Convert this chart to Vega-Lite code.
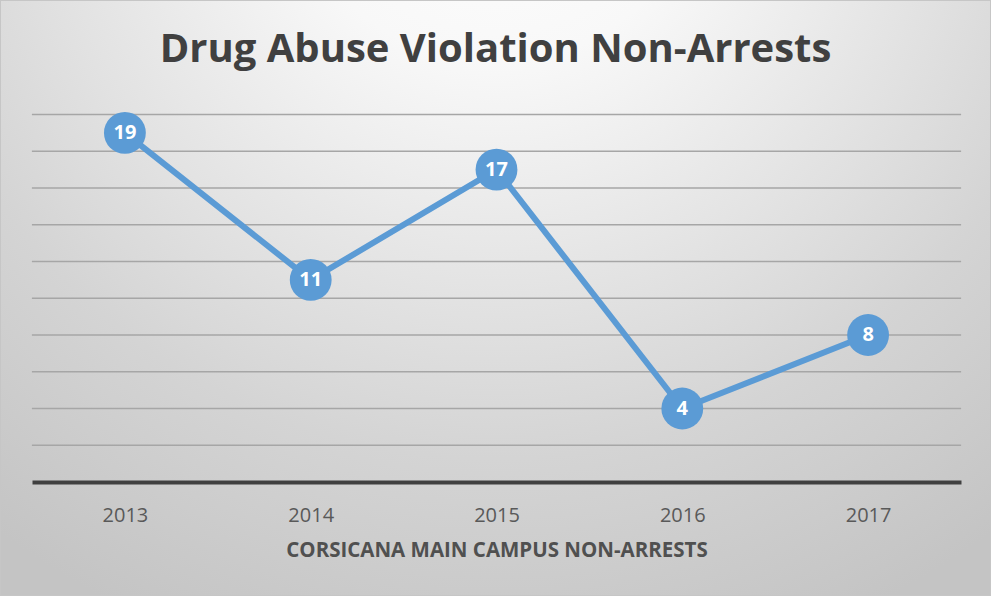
{
  "$schema": "https://vega.github.io/schema/vega-lite/v6.json",
  "width": 991,
  "height": 596,
  "autosize": {"type": "none"},
  "padding": 0,
  "background": "#d0d0d0",
  "config": {
    "font": "Open Sans",
    "view": {
      "fill": {
        "gradient": "radial",
        "x1": 0.5, "y1": 0.05, "r1": 0,
        "x2": 0.5, "y2": 0.05, "r2": 0.85,
        "stops": [
          {"offset": 0, "color": "#ffffff"},
          {"offset": 0.25, "color": "#f8f8f8"},
          {"offset": 0.72, "color": "#d4d4d4"},
          {"offset": 1, "color": "#c4c4c4"}
        ]
      },
      "stroke": "#c6c6c6",
      "strokeWidth": 2
    }
  },
  "title": {
    "text": "Drug Abuse Violation Non-Arrests",
    "orient": "top",
    "anchor": "middle",
    "frame": "group",
    "offset": -102,
    "baseline": "alphabetic",
    "fontSize": 40,
    "fontWeight": "bold",
    "color": "#404040",
    "font": "Open Sans"
  },
  "data": {
    "values": [
      {"year": "2013", "count": 19},
      {"year": "2014", "count": 11},
      {"year": "2015", "count": 17},
      {"year": "2016", "count": 4},
      {"year": "2017", "count": 8}
    ]
  },
  "encoding": {
    "x": {
      "field": "year",
      "type": "ordinal",
      "scale": {"type": "point", "range": [32, 961], "padding": 0.5},
      "axis": {
        "orient": "bottom",
        "offset": -114,
        "title": "CORSICANA MAIN CAMPUS NON-ARRESTS",
        "domainColor": "#404040",
        "domainWidth": 4,
        "ticks": false,
        "tickSize": 0,
        "grid": false,
        "labelPadding": 23,
        "labelFontSize": 20,
        "labelColor": "#595959",
        "labelAngle": 0,
        "labelBaseline": "top",
        "labelFont": "Open Sans",
        "titleFont": "Open Sans",
        "titleFontSize": 20.5,
        "titleFontWeight": "bold",
        "titleColor": "#505050",
        "titlePadding": 15
      }
    },
    "y": {
      "field": "count",
      "type": "quantitative",
      "scale": {"domain": [0, 20], "range": [482, 114.5]},
      "axis": null
    }
  },
  "layer": [
    {
      "data": {
        "values": [
          {"grid": 2}, {"grid": 4}, {"grid": 6}, {"grid": 8}, {"grid": 10},
          {"grid": 12}, {"grid": 14}, {"grid": 16}, {"grid": 18}, {"grid": 20}
        ]
      },
      "mark": {"type": "rule", "color": "#a6a6a6", "strokeWidth": 1.5, "xOffset": -93, "x2Offset": 93},
      "encoding": {
        "x": {"datum": "2013"},
        "x2": {"datum": "2017"},
        "y": {"field": "grid", "type": "quantitative"}
      }
    },
    {
      "mark": {"type": "line", "color": "#5B9BD5", "strokeWidth": 6}
    },
    {
      "mark": {"type": "point", "filled": true, "size": 1750, "color": "#5B9BD5", "opacity": 1}
    },
    {
      "mark": {"type": "text", "color": "#ffffff", "fontWeight": "bold", "fontSize": 20, "baseline": "middle", "font": "Open Sans"},
      "encoding": {"text": {"field": "count", "type": "quantitative"}}
    }
  ]
}
